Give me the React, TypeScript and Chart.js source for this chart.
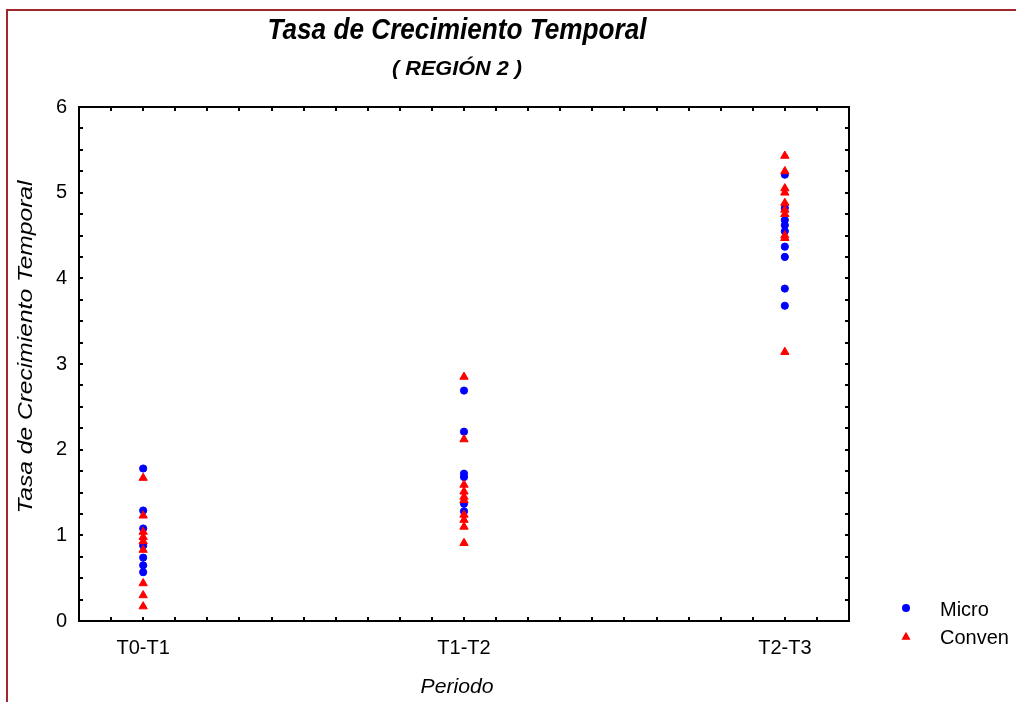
import React, { useEffect, useRef } from "react";
import { Chart, registerables } from "chart.js";

Chart.register(...registerables);

// Periods on the x axis (placed at 0, 1, 2 on a linear scale)
const periods = ["T0-T1", "T1-T2", "T2-T3"];
const seriesNames = ["Micro", "Conven"];

// Growth rates, one array per period and series
const microT0T1 = [1.78, 1.29, 1.08, 0.88, 0.74, 0.65, 0.57];
const microT1T2 = [2.69, 2.21, 1.72, 1.68, 1.37, 1.28];
const microT2T3 = [5.21, 4.82, 4.68, 4.62, 4.55, 4.37, 4.25, 3.88, 3.68];

const convenT0T1 = [1.67, 1.23, 1.04, 0.98, 0.93, 0.83, 0.44, 0.3, 0.17];
const convenT1T2 = [2.85, 2.12, 1.59, 1.51, 1.45, 1.41, 1.24, 1.18, 1.1, 0.91];
const convenT2T3 = [5.43, 5.25, 5.05, 5.0, 4.88, 4.8, 4.75, 4.5, 4.47, 3.14];

const yTickValues = [0, 1, 2, 3, 4, 5, 6];

const title = "Tasa de Crecimiento Temporal";
const subtitle = "( REGIÓN 2 )";
const yTitle = "Tasa de Crecimiento Temporal";
const xTitle = "Periodo";

const FONT = "'Liberation Sans', Arial, Helvetica, sans-serif";
const BLUE = "#0000ff";
const RED = "#ff0000";

const toPoints = (groups: number[][]) =>
  groups.flatMap((vals, i) => vals.map((y) => ({ x: i, y })));

function isWhole(v: number) {
  return Math.abs(v - Math.round(v)) < 1e-6;
}

function fittedText(
  ctx: CanvasRenderingContext2D,
  text: string,
  x: number,
  y: number,
  font: string,
  width: number,
  rotate = 0
) {
  ctx.save();
  ctx.font = font;
  const w = ctx.measureText(text).width;
  ctx.translate(x, y);
  if (rotate) ctx.rotate(rotate);
  ctx.scale(width / w, 1);
  ctx.fillStyle = "#000";
  ctx.textAlign = "center";
  ctx.textBaseline = "alphabetic";
  ctx.fillText(text, 0, 0);
  ctx.restore();
}

function triangle(ctx: CanvasRenderingContext2D, x: number, y: number, r: number) {
  ctx.beginPath();
  ctx.moveTo(x, y - r);
  ctx.lineTo(x + r * 0.866, y + r * 0.5);
  ctx.lineTo(x - r * 0.866, y + r * 0.5);
  ctx.closePath();
}

// Window border, plot frame with inward ticks, titles and legend
const decorations = {
  id: "decorations",
  beforeDatasetsDraw(chart: any) {
    const { ctx, chartArea: a, scales } = chart;
    ctx.save();
    ctx.strokeStyle = "#000";
    ctx.lineWidth = 2;
    ctx.strokeRect(a.left, a.top, a.right - a.left, a.bottom - a.top);
    const len = 4;
    ctx.beginPath();
    for (const t of scales.x.ticks) {
      const px = Math.round(scales.x.getPixelForValue(t.value));
      if (px <= a.left + 1 || px >= a.right - 1) continue;
      ctx.moveTo(px, a.bottom);
      ctx.lineTo(px, a.bottom - len);
      ctx.moveTo(px, a.top);
      ctx.lineTo(px, a.top + len);
    }
    for (const t of scales.y.ticks) {
      const py = Math.round(scales.y.getPixelForValue(t.value));
      if (py <= a.top + 1 || py >= a.bottom - 1) continue;
      ctx.moveTo(a.left, py);
      ctx.lineTo(a.left + len, py);
      ctx.moveTo(a.right, py);
      ctx.lineTo(a.right - len, py);
    }
    ctx.stroke();
    ctx.restore();
  },
  afterDraw(chart: any) {
    const { ctx, chartArea: a } = chart;
    ctx.save();
    // outer window border
    ctx.strokeStyle = "#a0282c";
    ctx.lineWidth = 2;
    ctx.beginPath();
    ctx.moveTo(7, chart.height);
    ctx.lineTo(7, 10);
    ctx.lineTo(chart.width, 10);
    ctx.stroke();

    const cx = (a.left + a.right) / 2 - 7;
    fittedText(ctx, title, cx, 39, `italic bold 29px ${FONT}`, 379);
    fittedText(ctx, subtitle, cx, 75, `italic bold 20px ${FONT}`, 130);
    fittedText(ctx, xTitle, cx, 693, `italic 21px ${FONT}`, 73);
    fittedText(ctx, yTitle, 32, 347, `italic 21px ${FONT}`, 333, -Math.PI / 2);

    // legend
    const lx = 906;
    const rows = [
      { y: 608, color: BLUE, shape: "circle" },
      { y: 636, color: RED, shape: "triangle" },
    ];
    ctx.font = `20px ${FONT}`;
    ctx.textAlign = "left";
    ctx.textBaseline = "middle";
    rows.forEach((r, i) => {
      ctx.fillStyle = r.color;
      if (r.shape === "circle") {
        ctx.beginPath();
        ctx.arc(lx, r.y, 4, 0, Math.PI * 2);
      } else {
        triangle(ctx, lx, r.y + 1, 5.3);
      }
      ctx.fill();
      ctx.fillStyle = "#000";
      ctx.fillText(seriesNames[i], 940, r.y + 2);
    });
    ctx.restore();
  },
};

export default function App() {
  const ref = useRef<HTMLCanvasElement | null>(null);

  useEffect(() => {
    if (!ref.current) return;
    const chart = new Chart(ref.current, {
      type: "scatter",
      data: {
        datasets: [
          {
            label: seriesNames[0],
            data: toPoints([microT0T1, microT1T2, microT2T3]),
            pointStyle: "circle",
            pointRadius: 3.6,
            borderWidth: 1,
            backgroundColor: BLUE,
            borderColor: BLUE,
            order: 2,
          },
          {
            label: seriesNames[1],
            data: toPoints([convenT0T1, convenT1T2, convenT2T3]),
            pointStyle: "triangle",
            pointRadius: 4.8,
            borderWidth: 1,
            backgroundColor: RED,
            borderColor: RED,
            order: 1,
          },
        ],
      },
      options: {
        responsive: false,
        animation: false,
        events: [],
        layout: { padding: { left: 0, right: 167, top: 107, bottom: 0 } },
        plugins: {
          legend: { display: false },
          title: { display: false },
          tooltip: { enabled: false },
        },
        scales: {
          x: {
            type: "linear",
            min: -0.2,
            max: 2.2,
            grid: { display: false, drawTicks: false },
            border: { display: false },
            afterFit: (s: any) => {
              s.height = 81;
            },
            ticks: {
              stepSize: 0.1,
              autoSkip: false,
              maxRotation: 0,
              padding: 15,
              color: "#000",
              font: { family: FONT, size: 20 },
              callback: (v: any) => {
                const n = Number(v);
                return isWhole(n) ? periods[Math.round(n)] ?? "" : "";
              },
            },
          },
          y: {
            type: "linear",
            min: 0,
            max: 6,
            grid: { display: false, drawTicks: false },
            border: { display: false },
            afterFit: (s: any) => {
              s.width = 79;
            },
            ticks: {
              stepSize: 0.25,
              autoSkip: false,
              padding: 12,
              color: "#000",
              font: { family: FONT, size: 20 },
              callback: (v: any) => {
                const n = Number(v);
                return isWhole(n) && yTickValues.includes(Math.round(n))
                  ? String(Math.round(n))
                  : "";
              },
            },
          },
        },
      },
      plugins: [decorations],
    });
    return () => chart.destroy();
  }, []);

  return (
    <div
      style={{
        position: "absolute",
        left: 0,
        top: 0,
        width: 1016,
        height: 702,
        background: "#fff",
      }}
    >
      <canvas ref={ref} width={1016} height={702} />
    </div>
  );
}
